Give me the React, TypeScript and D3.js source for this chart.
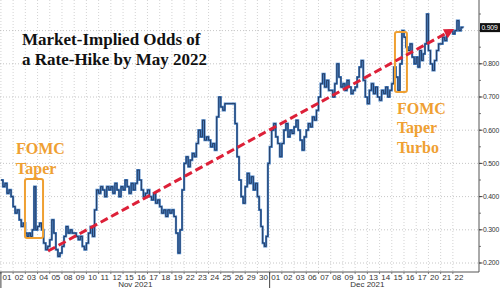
import React from "react";
import * as d3 from "d3";

// ---------- DATA ----------
const novDays = ["01","02","03","04","05","08","09","10","11","12","15","16","17","18","19","22","23","24","25","26","29","30"];
const decDays = ["01","02","03","06","07","08","09","10","13","14","15","16","17","20","21","22"];
const months = ["Nov 2021", "Dec 2021"];

// intraday readings per trading day (market-implied odds)
const novValues: number[][] = [
  [0.45, 0.43, 0.44, 0.41, 0.42, 0.40],
  [0.37, 0.35, 0.36, 0.33, 0.31, 0.32],
  [0.29, 0.28, 0.29, 0.28, 0.30, 0.43, 0.30],
  [0.31, 0.32, 0.30, 0.26, 0.24, 0.25],
  [0.27, 0.33, 0.29, 0.24, 0.22, 0.23],
  [0.25, 0.28, 0.31, 0.29, 0.30, 0.29],
  [0.29, 0.28, 0.27, 0.28, 0.25, 0.24],
  [0.26, 0.29, 0.31, 0.28, 0.36, 0.42],
  [0.41, 0.43, 0.42, 0.40, 0.43, 0.42],
  [0.43, 0.41, 0.44, 0.42, 0.40, 0.43],
  [0.42, 0.45, 0.43, 0.41, 0.44, 0.42],
  [0.44, 0.48, 0.45, 0.42, 0.40, 0.41],
  [0.42, 0.40, 0.39, 0.41, 0.38, 0.39],
  [0.37, 0.35, 0.36, 0.34, 0.36, 0.35],
  [0.36, 0.34, 0.29, 0.23, 0.30, 0.42],
  [0.50, 0.52, 0.49, 0.51, 0.53, 0.52],
  [0.56, 0.60, 0.58, 0.63, 0.57, 0.58],
  [0.57, 0.55, 0.56, 0.54, 0.64, 0.70],
  [0.67, 0.66, 0.68, 0.68, 0.68, 0.68],
  [0.68, 0.62, 0.52, 0.45, 0.40, 0.38],
  [0.43, 0.47, 0.44, 0.46, 0.42, 0.44],
  [0.40, 0.36, 0.31, 0.26, 0.25, 0.28, 0.50],
];
const decValues: number[][] = [
  [0.55, 0.60, 0.62, 0.58, 0.56, 0.52],
  [0.56, 0.60, 0.62, 0.58, 0.60, 0.59],
  [0.61, 0.63, 0.60, 0.57, 0.54, 0.58],
  [0.60, 0.62, 0.61, 0.64, 0.63, 0.66],
  [0.70, 0.74, 0.77, 0.73, 0.75, 0.72],
  [0.72, 0.70, 0.74, 0.80, 0.76, 0.73],
  [0.74, 0.72, 0.75, 0.73, 0.71, 0.72],
  [0.73, 0.76, 0.79, 0.81, 0.75, 0.70],
  [0.68, 0.72, 0.74, 0.71, 0.73, 0.70],
  [0.69, 0.72, 0.71, 0.73, 0.70, 0.72],
  [0.74, 0.79, 0.76, 0.72, 0.80, 0.90],
  [0.88, 0.85, 0.84, 0.86, 0.82, 0.80],
  [0.82, 0.79, 0.84, 0.81, 0.83, 0.86, 0.95],
  [0.84, 0.80, 0.78, 0.81, 0.84, 0.86],
  [0.86, 0.88, 0.87, 0.89, 0.90, 0.90],
  [0.89, 0.90, 0.93, 0.90, 0.91, 0.909],
];
const yTicks = [0.2, 0.3, 0.4, 0.5, 0.6, 0.7, 0.8, 0.9];
const lastValue = 0.909;

const titleLines = ["Market-Implied Odds of", "a Rate-Hike by May 2022"];
const trendStart = { day: 3.86, value: 0.236 };
const trendEnd = { day: 37.1, value: 0.905 };
const boxes = [
  { from: 1.97, to: 3.45, top: 0.453, bottom: 0.275 },
  { from: 32.26, to: 33.24, top: 0.896, bottom: 0.715 },
];
const notes = [
  { lines: ["FOMC", "Taper"], day: 1.24, value: 0.528 },
  { lines: ["FOMC", "Taper", "Turbo"], day: 32.42, value: 0.65 },
];

// ---------- CHART ----------
const W = 500, H = 288;
const axisX = 479, axisY = 272;
const allDays = [...novDays, ...decDays];
const allValues = [...novValues, ...decValues];
const sans = "'Liberation Sans', Arial, sans-serif";

export default function App() {
  const x = d3.scaleLinear().domain([0, 39.14]).range([0.9, axisX]);
  const y = d3.scaleLinear().domain([0.2, 0.9]).range([263, 30.6]);

  const pts: [number, number][] = [];
  allValues.forEach((day, i) => {
    day.forEach((v, k) => pts.push([i + k / day.length, v]));
  });
  pts.push([allValues.length - 0.15, lastValue]);

  const line = d3.line<[number, number]>()
    .x(d => x(d[0]))
    .y(d => y(d[1]))
    .curve(d3.curveStepAfter);
  const pathD = line(pts) || "";

  const minorTicks = d3.range(0.15, 1.0, 0.05).filter(v => y(v) > 0 && y(v) < axisY);

  const orange = "#EFA032";
  const red = "#DD2038";

  const x1 = x(trendStart.day), y1 = y(trendStart.value);
  const x2 = x(trendEnd.day), y2 = y(trendEnd.value);
  const ang = Math.atan2(y2 - y1, x2 - x1);
  const aLen = 10, aW = 5;
  const bx = x2 - aLen * Math.cos(ang), by = y2 - aLen * Math.sin(ang);
  const arrow = [
    [x2, y2],
    [bx + aW * Math.sin(ang), by - aW * Math.cos(ang)],
    [bx - aW * Math.sin(ang), by + aW * Math.cos(ang)],
  ].map(p => p.join(",")).join(" ");

  const monthRanges = [
    { label: months[0], a: 0, b: novDays.length },
    { label: months[1], a: novDays.length, b: allDays.length },
  ];

  return (
    <div style={{ position: "absolute", left: 0, top: 0 }}>
      <svg width={W} height={H} style={{ display: "block", background: "#fff" }}>
        {allDays.map((_, i) => (
          <line key={"vg" + i} x1={x(i)} x2={x(i)} y1={0} y2={axisY}
            stroke="#c8c8c8" strokeWidth={0.8} strokeDasharray="1,2" />
        ))}
        {yTicks.map(t => (
          <line key={"hg" + t} x1={0} x2={axisX} y1={y(t)} y2={y(t)}
            stroke="#b8b8b8" strokeWidth={0.8} strokeDasharray="1,2" />
        ))}

        <path d={pathD} fill="none" stroke="#4a82c4" strokeWidth={2.2} />
        <path d={pathD} fill="none" stroke="#1c2c4e" strokeWidth={0.8} />

        {boxes.map((b, i) => (
          <rect key={"b" + i} x={x(b.from)} y={y(b.top)} width={x(b.to) - x(b.from)}
            height={y(b.bottom) - y(b.top)} rx={2} fill="none" stroke={orange} strokeWidth={2} />
        ))}
        <line x1={x1} y1={y1} x2={bx} y2={by} stroke={red} strokeWidth={3} strokeDasharray="8,4" />
        <polygon points={arrow} fill={red} />

        {notes.map((n, i) => (
          <text key={"n" + i} x={x(n.day)} y={y(n.value)} fill={orange}
            fontFamily="'Liberation Serif', serif" fontWeight="bold" fontSize={16}>
            {n.lines.map((l, j) => (
              <tspan key={j} x={x(n.day)} dy={j === 0 ? 0 : 19.5}>{l}</tspan>
            ))}
          </text>
        ))}

        <text x={22} y={45} fontFamily="'Liberation Serif', serif" fontWeight="bold" fontSize={17} fill="#111">
          <tspan x={22}>{titleLines[0]}</tspan>
          <tspan x={22} dy={20}>{titleLines[1]}</tspan>
        </text>

        <line x1={axisX} x2={axisX} y1={0} y2={axisY} stroke="#555" strokeWidth={1} />
        {minorTicks.map(v => (
          <line key={"mt" + v} x1={axisX} x2={axisX + 2} y1={y(v)} y2={y(v)} stroke="#555" strokeWidth={0.8} />
        ))}
        {yTicks.filter(t => t < 0.9).map(t => (
          <g key={"yt" + t}>
            <line x1={axisX} x2={axisX + 3.5} y1={y(t)} y2={y(t)} stroke="#444" strokeWidth={1} />
            <text x={axisX + 4} y={y(t)} dy="0.35em" fontFamily={sans}
              fontSize={6.8} letterSpacing={-0.2} fill="#333">{d3.format(".3f")(t)}</text>
          </g>
        ))}
        <rect x={axisX + 1} y={y(lastValue) - 4.5} width={20} height={9} fill="#111" />
        <text x={axisX + 2.5} y={y(lastValue)} dy="0.35em" fontFamily={sans}
          fontSize={6.8} letterSpacing={-0.2} fill="#fff">{d3.format(".3f")(lastValue)}</text>

        <line x1={0} x2={axisX} y1={axisY} y2={axisY} stroke="#555" strokeWidth={1} />
        {allDays.map((d, i) => (
          <g key={"xd" + i}>
            <line x1={x(i)} x2={x(i)} y1={axisY} y2={axisY + 2} stroke="#666" strokeWidth={0.8} />
            <text x={x(i + 0.5)} y={279.5} textAnchor="middle"
              fontFamily={sans} fontSize={8} fill="#333">{d}</text>
          </g>
        ))}
        {monthRanges.map((m, i) => (
          <g key={"m" + i}>
            <line x1={x(m.a)} x2={x(m.a)} y1={axisY} y2={H} stroke="#444" strokeWidth={1} />
            <text x={(x(m.a) + x(m.b)) / 2} y={287} textAnchor="middle"
              fontFamily={sans} fontSize={8} fill="#333">{m.label}</text>
          </g>
        ))}
      </svg>
    </div>
  );
}
